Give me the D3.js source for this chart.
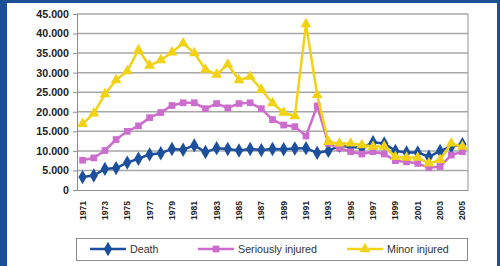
<!DOCTYPE html>
<html><head><meta charset="utf-8">
<script src="https://cdn.jsdelivr.net/npm/d3@7"></script>
<style>html,body{margin:0;padding:0;background:#1b4f98;}svg{display:block}</style>
</head><body>
<svg id="c" width="500" height="266"></svg>
<script>
const years = d3.range(1971, 2006).map(String);
const death = [3300,3700,5400,5600,7000,8000,9100,9400,10500,10300,11400,9700,10700,10500,10100,10500,10200,10500,10400,10600,10700,9500,10000,11300,11000,10800,12200,11900,10000,9600,9600,8500,10000,11100,11700];
const serious = [7600,8200,10100,12900,15000,16400,18500,19800,21600,22300,22300,20800,22100,21000,22100,22300,20800,18000,16600,16200,13800,21500,11900,10700,9800,9200,9800,9200,7500,7200,6800,5700,6000,8900,9800];
const minor = [16900,19600,24500,28100,30400,35800,31800,33200,35200,37500,35000,30800,29500,32100,28100,29000,25700,22200,19800,18900,42400,24300,12300,11900,11900,11500,11100,11100,8500,8300,8300,6800,7700,11900,11100];
const yTicks = [0,5000,10000,15000,20000,25000,30000,35000,40000,45000];
const xTickLabels = years.filter((d,i)=>i%2===0);
const seriesNames = ["Death","Seriously injured","Minor injured"];

const svg = d3.select("#c");
svg.append("rect").attr("x",7).attr("y",3).attr("width",490).attr("height",263).attr("fill","#fff");

const L=77, R=468, T=14, B=190;
const x = d3.scaleBand().domain(years).range([L,R]).padding(0);
const y = d3.scaleLinear().domain([0,45000]).range([B,T]);
const loc = d3.formatLocale({decimal:",",thousands:".",grouping:[3],currency:["",""]});
const fmt = loc.format(",");

// gridlines
svg.append("g").selectAll("line").data(yTicks.filter(d=>d>0)).join("line")
  .attr("x1",L).attr("x2",R).attr("y1",d=>y(d)).attr("y2",d=>y(d))
  .attr("stroke","#a6a6a6").attr("stroke-width",1.5);
svg.append("line").attr("x1",R).attr("x2",R).attr("y1",T).attr("y2",B).attr("stroke","#a6a6a6").attr("stroke-width",1.2);

// y axis
const ya = svg.append("g").attr("transform",`translate(${L},0)`)
  .call(d3.axisLeft(y).tickValues(yTicks).tickFormat(fmt).tickSize(4).tickPadding(4));
ya.select(".domain").attr("stroke","#8c8c8c");
ya.selectAll(".tick line").attr("stroke","#8c8c8c");
ya.selectAll("text").attr("font-family","Liberation Sans, Arial, sans-serif").attr("font-size","10.7px")
  .attr("font-weight","bold").attr("fill","#222");

// x axis
const xa = svg.append("g").attr("transform",`translate(0,${B})`)
  .call(d3.axisBottom(x).tickValues(xTickLabels).tickSize(0));
xa.select(".domain").attr("stroke","#8c8c8c").attr("stroke-width",1.2);
xa.selectAll("text").attr("font-family","Liberation Sans, Arial, sans-serif").attr("font-size","8.5px")
  .attr("font-weight","bold").attr("fill","#222")
  .attr("transform","rotate(-90)").attr("text-anchor","end").attr("dy","0.35em").attr("y",0).attr("x",-11);

const cx = d => x(d) + x.bandwidth()/2;
const series = [
  {name:seriesNames[0], vals:death, color:"#1c4f9c", sym:d3.symbolDiamond, size:60},
  {name:seriesNames[1], vals:serious, color:"#cc6ccc", sym:d3.symbolSquare, size:45},
  {name:seriesNames[2], vals:minor, color:"#f2d214", sym:d3.symbolTriangle, size:52}
];
const line = d3.line().x((d,i)=>cx(years[i])).y(d=>y(d));
series.forEach(s=>{
  const g = svg.append("g");
  g.append("path").attr("d",line(s.vals)).attr("fill","none").attr("stroke",s.color).attr("stroke-width",2.5);
  g.selectAll("path.m").data(s.vals).join("path").attr("class","m")
    .attr("d",d3.symbol().type(s.sym).size(s.size))
    .attr("transform",(d,i)=>`translate(${cx(years[i])},${y(d)})`)
    .attr("fill",s.color);
});

// legend
svg.append("rect").attr("x",76.5).attr("y",238.5).attr("width",391).attr("height",22)
  .attr("fill","#fff").attr("stroke","#8c8c8c").attr("stroke-width",1);
const lx = [90, 198, 347];
series.forEach((s,i)=>{
  const g = svg.append("g").attr("transform",`translate(${lx[i]},249)`);
  g.append("line").attr("x1",0).attr("x2",36).attr("stroke",s.color).attr("stroke-width",2.5);
  g.append("path").attr("d",d3.symbol().type(s.sym).size(s.size)()).attr("transform","translate(18,0)").attr("fill",s.color);
  g.append("text").attr("x",40).attr("y",0).attr("dy","0.35em").text(s.name)
    .attr("font-family","Liberation Sans, Arial, sans-serif").attr("font-size","10.7px").attr("fill","#333");
});
</script>
</body></html>
